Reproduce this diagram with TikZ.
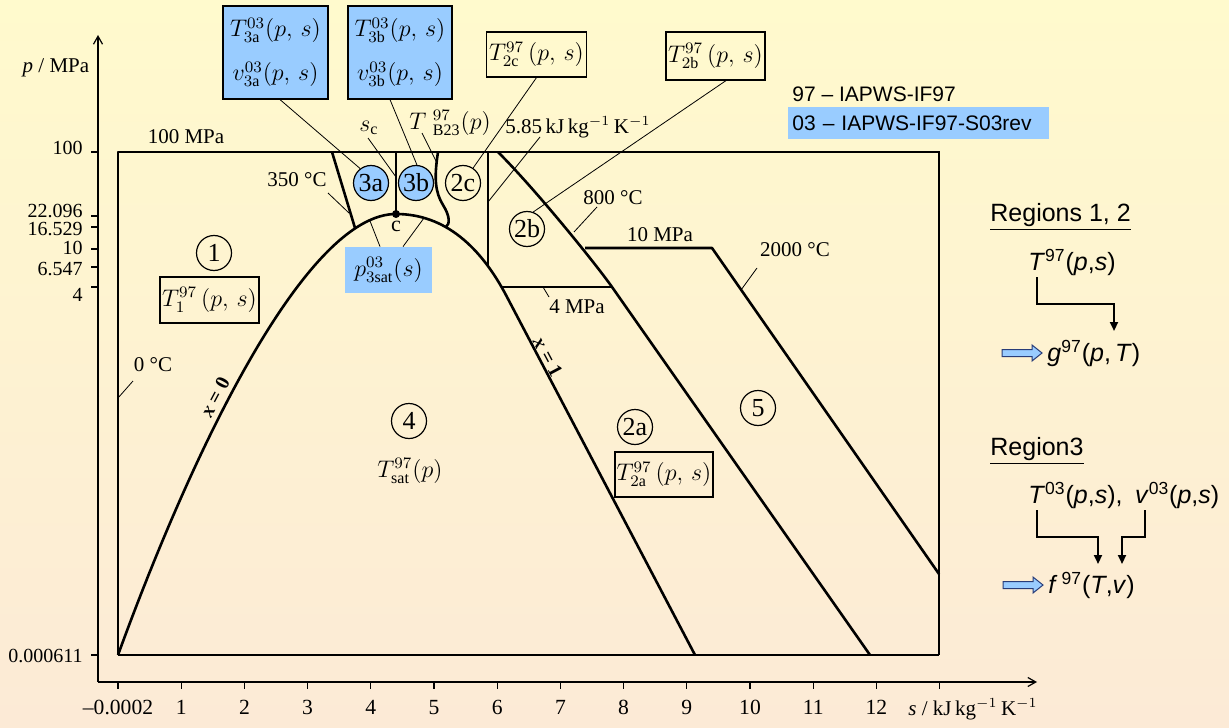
\documentclass[tikz,border=0pt]{standalone}
\usepackage{fontspec}
\setmainfont{Liberation Serif}
\newfontfamily\arialf{Liberation Sans}
\usetikzlibrary{arrows.meta}
\definecolor{bgtop}{RGB}{255,250,205}
\definecolor{bgbot}{RGB}{252,234,214}
\definecolor{blue3}{RGB}{153,204,255}
\definecolor{arrowedge}{RGB}{40,60,120}
\tikzset{bluearrow/.pic={\draw[fill=blue3, draw=arrowedge, line width=0.5pt] (0,-3.5) -- (30,-3.5) -- (30,-8) -- (40,0) -- (30,8) -- (30,3.5) -- (0,3.5) -- cycle;}}
\begin{document}
\begin{tikzpicture}[x=0.5pt,y=-0.5pt,
  thickline/.style={line width=1.3pt, line join=round},
  thinline/.style={line width=0.55pt},
  leader/.style={line width=0.4pt},
  regcirc/.style={circle, draw, line width=0.6pt, minimum size=17.5pt, inner sep=0pt, font=\fontsize{13}{15}\selectfont},
  bluecirc/.style={regcirc, fill=blue3},
  fbox/.style={draw, line width=0.6pt, inner sep=0pt, font=\fontsize{12}{14}\selectfont},
  lab/.style={inner sep=0pt, font=\fontsize{10.5}{12}\selectfont},
  ticklab/.style={inner sep=0pt, font=\fontsize{10}{12}\selectfont},
  sans/.style={inner sep=0pt, font=\arialf\fontsize{12.5}{15}\selectfont},
  legend/.style={inner sep=0pt, font=\arialf\fontsize{10.5}{12}\selectfont},
  conn/.style={line width=0.95pt, line join=miter, -{Triangle[length=4.5pt,width=4pt]}},
  axisarrow/.style={line width=0.6pt, -{Straight Barb[length=4pt,width=4.5pt]}}
]
% background
\fill[top color=bgtop, bottom color=bgbot] (0,0) rectangle (1229,727);
\useasboundingbox (0,0) rectangle (1229,727);

% axes
\coordinate (O) at (98,682);
\coordinate (ytip) at (98,35);
\coordinate (xtip) at (1037,682);
\draw[axisarrow] (O) -- (ytip);
\draw[axisarrow] (O) -- (xtip);
\node[lab, anchor=base] (plab) at (56,73) {\textit{p} / MPa};
\node[lab, anchor=base west] (slab) at (908,715) {\textit{s} / kJ\,kg$^{-1}$\,K$^{-1}$};

% y ticks
\foreach \v/\y/\ly [count=\i] in {100/152/149, 22.096/216/211, 16.529/227/229, 10/249/248.5, 6.547/267/269, 4/287/295, 0.000611/655/656}{
  \draw[thinline] (91,\y) -- (98,\y);
  \node[ticklab, anchor=base east] (yl\i) at (83,\ly+6) {\v};
}
% x ticks
\foreach \k in {0,...,13}{
  \draw[thinline] (118+63.2*\k,682) -- (118+63.2*\k,689);
}
\node[ticklab, font=\fontsize{10.8}{12}\selectfont, anchor=base] (xl0) at (118,714.5) {\textendash0.0002};
\foreach \k in {1,...,12}{
  \node[ticklab, font=\fontsize{10.8}{12}\selectfont, anchor=base] (xl\k) at (118+63.2*\k,714.5) {\k};
}

% frame
\draw[thickline] (118,655) -- (118,152) -- (498,152);
\draw[thinline] (498,152) -- (939,152) -- (939,655);
\draw[thickline] (118,655) -- (939,655);

% saturation dome (x = 0 and x = 1)
\draw[thickline] (118,655) .. controls (200,430) and (310,214) .. (396,214)
   .. controls (445,214) and (481,247) .. (507,297) -- (695,655);

% region 3 boundaries
\draw[thickline] (332,152) -- (355,228);
\draw[thickline] (396,152) -- (396,214);
\draw[thickline] (438,152) .. controls (434,178) and (435,192) .. (443,205) .. controls (450,216) and (450,224) .. (446,227);
% region 2 boundaries
\draw[thickline] (488,152) -- (488,267);
\draw[thickline] (502,287) -- (612,287);
\draw[thickline] (498,152) .. controls (538,192) and (598,267) .. (612,287) -- (870,655);
\draw[thickline] (585,248) -- (712,248) -- (939,574);

% critical point
\node[circle, fill, inner sep=0pt, minimum size=4pt] (cp) at (396,214) {};
\node[lab, font=\fontsize{11}{13}\selectfont] (clab) at (396,226) {c};

% region circles
\node[regcirc] (c1) at (214,253) {1};
\node[bluecirc] (c3a) at (371,183) {3a};
\node[bluecirc] (c3b) at (416,183) {3b};
\node[regcirc] (c2c) at (463,183) {2c};
\node[regcirc] (c2b) at (527,229) {2b};
\node[regcirc] (c4) at (409,421) {4};
\node[regcirc] (c2a) at (635,427) {2a};
\node[regcirc] (c5) at (758,408) {5};

% boxes
\node[fbox, minimum width=49.5pt, minimum height=23pt] (T1) at (209.5,300) {$T^{97}_{1}\,(p,\,s)$};
\node[fbox, fill=blue3, minimum width=52.5pt, minimum height=46.5pt, align=center] (T3a) at (275.5,52.5) {$T^{03}_{3\mathrm{a}}(p,\,s)$\\[8pt]$v^{03}_{3\mathrm{a}}(p,\,s)$};
\node[fbox, fill=blue3, minimum width=52pt, minimum height=46.5pt, align=center] (T3b) at (400,52.5) {$T^{03}_{3\mathrm{b}}(p,\,s)$\\[8pt]$v^{03}_{3\mathrm{b}}(p,\,s)$};
\node[fbox, minimum width=50pt, minimum height=22.5pt] (T2c) at (536.5,54.5) {$T^{97}_{2\mathrm{c}}\,(p,\,s)$};
\node[fbox, minimum width=49.5pt, minimum height=24pt] (T2b) at (715.5,56) {$T^{97}_{2\mathrm{b}}\,(p,\,s)$};
\node[fbox, minimum width=49pt, minimum height=22.5pt] (T2a) at (664,474.5) {$T^{97}_{2\mathrm{a}}\,(p,\,s)$};
\node[fill=blue3, inner sep=0pt, minimum width=43.5pt, minimum height=23pt, font=\fontsize{12}{14}\selectfont] (p3sat) at (388.5,270) {$p^{03}_{3\mathrm{sat}}(s)$};
\node[inner sep=0pt, font=\fontsize{12}{14}\selectfont] (Tsat) at (410,471) {$T^{97}_{\mathrm{sat}}(p)$};

% labels
\node[lab] (l100) at (186,137) {100 MPa};
\node[lab] (l350) at (297,180) {350 °C};
\node[lab, font=\fontsize{12}{14}\selectfont] (lsc) at (369,128) {$s_{\mathrm{c}}$};
\node[lab, font=\fontsize{12}{14}\selectfont] (lB23) at (450,123) {$T\;{}^{97}_{\mathrm{B23}}(p)$};
\node[lab] (l585) at (578,127) {5.85\,kJ\,kg$^{-1}$\,K$^{-1}$};
\node[lab] (l800) at (613,198) {800 °C};
\node[lab] (l10) at (660,235) {10 MPa};
\node[lab] (l2000) at (795,250) {2000 °C};
\node[lab] (l4) at (577,307) {4 MPa};
\node[lab] (l0) at (153,365) {0 °C};
\node[lab, font=\fontsize{10}{12}\selectfont\bfseries, rotate=62] (lx0) at (215,397) {\textit{x} = 0};
\node[lab, font=\fontsize{10}{12}\selectfont\bfseries, rotate=-62] (lx1) at (548,357) {\textit{x} = 1};

% leaders
\coordinate (e350) at (349,213);
\coordinate (esc) at (396,177);
\coordinate (eB23) at (437,163);
\coordinate (e585) at (488,202);
\coordinate (e800) at (574,232);
\coordinate (e2000) at (741,290);
\coordinate (e4) at (543,287);
\coordinate (e0) at (118,398);
\coordinate (ed1) at (370,221);
\coordinate (ed2) at (424,218);
\draw[leader] (328,193) -- (e350);
\draw[leader] (368,138) -- (esc);
\draw[leader] (422,133) -- (eB23);
\draw[leader] (540,137) -- (e585);
\draw[leader] (597,207) -- (e800);
\draw[leader] (757,268) -- (e2000);
\draw[leader] (549,297) -- (e4);
\draw[leader] (133,381) -- (e0);
\draw[leader] ([xshift=2.25pt]T3a.south) -- (c3a.127);
\draw[leader] ([xshift=-5pt]T3b.south) -- (c3b.87);
\draw[leader] (T2c.south) -- (c2c.56);
\draw[leader] ([xshift=5.25pt]T2b.south) -- (c2b.70);
\draw[leader] ([xshift=-4.25pt]p3sat.north) -- (ed1);
\draw[leader] ([xshift=7.25pt]p3sat.north) -- (ed2);

% legend
\node[legend, anchor=base west] (leg1) at (792,101.5) {97 – IAPWS-IF97};
\node[legend, fill=blue3, anchor=north west, minimum width=130.5pt, minimum height=16pt, inner xsep=2pt, text width=126.5pt] (leg2) at (788,107) {03 – IAPWS-IF97-S03rev};

% right-hand scheme
\node[sans, anchor=base west] (reg12) at (990,221) {\underline{Regions 1, 2}};
\node[sans, anchor=base west] (T97) at (1028,270) {\textit{T}\textsuperscript{97}(\textit{p},\textit{s})};
\node[sans, anchor=base west] (g97) at (1047,361) {\textit{g}\textsuperscript{97}(\textit{p},\,\textit{T})};
\node[sans, anchor=base west] (reg3) at (990,455) {\underline{Region3}};
\node[sans, anchor=base west] (Tv03) at (1028,503) {\textit{T}\textsuperscript{03}(\textit{p},\textit{s}),\enspace\textit{v}\textsuperscript{03}(\textit{p},\textit{s})};
\node[sans, anchor=base west] (f97) at (1048,593) {\textit{f}\,\textsuperscript{97}(\textit{T},\textit{v})};

\coordinate (a1s) at (1037,277);
\coordinate (a1e) at (1114,331);
\draw[conn] (a1s) -- (1037,304) -- (1114,304) -- (a1e);
\coordinate (a2s) at (1037,510);
\coordinate (a2e) at (1098,564);
\draw[conn] (a2s) -- (1037,537) -- (1098,537) -- (a2e);
\coordinate (a3s) at (1145,510);
\coordinate (a3e) at (1122,564);
\draw[conn] (a3s) -- (1145,537) -- (1122,537) -- (a3e);

\pic at (1002,353) {bluearrow};
\pic at (1003,585) {bluearrow};
\end{tikzpicture}
\end{document}
